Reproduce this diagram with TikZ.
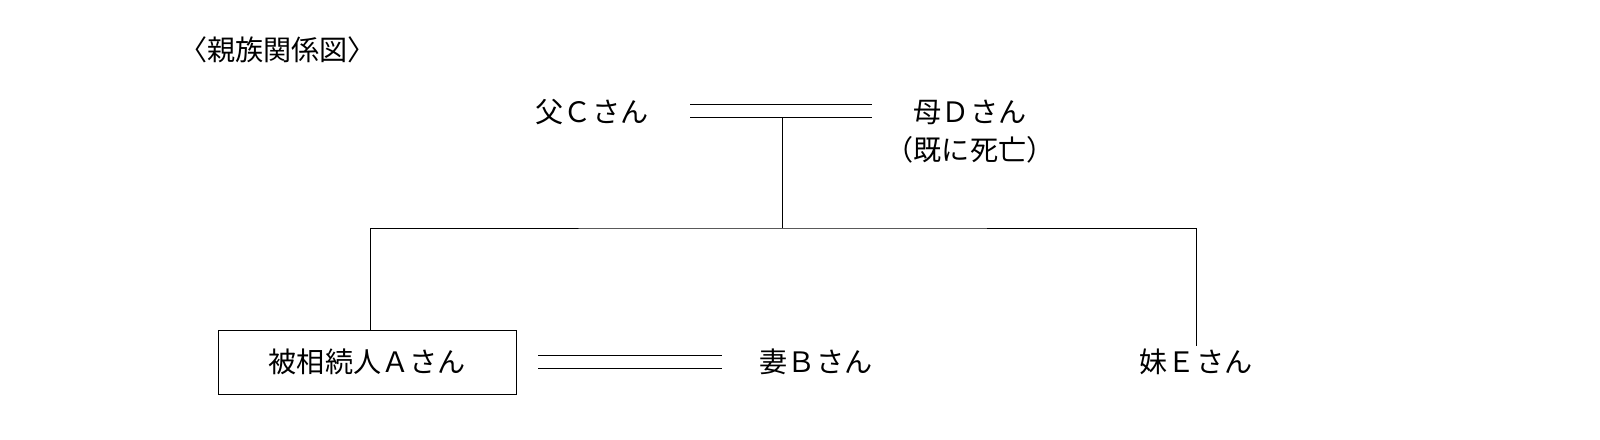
\documentclass[tikz,border=0pt]{standalone}
\usepackage{fontspec}
\setmainfont{Noto Sans CJK JP}
\usetikzlibrary{positioning}
\tikzstyle{person} = [inner sep=2pt, font=\fontsize{20}{24}\selectfont]
\tikzstyle{marriage} = [double, double distance=0.3cm, line width=0.7pt]
\tikzstyle{line} = [line width=0.7pt]

\begin{document}
\begin{tikzpicture}

    % Nodes
    \node (title) [person, anchor=west] at (4.4,9.75) {〈親族関係図〉};
    \node (father) [person] at (14.8,8.2) {父Ｃさん};
    \node (mother) [person] at (24.25,8.2) {母Ｄさん};
    \node (deceased) [person, below=0.15cm of mother] {（既に死亡）};
    \node (heir) [person, draw, line width=0.7pt, minimum width=7.45cm, minimum height=1.6cm] at (9.18,1.95) {被相続人Ａさん};
    \node (wife) [person] at (20.4,1.95) {妻Ｂさん};
    \node (sister) [person] at (29.9,1.95) {妹Ｅさん};

    % Coordinates
    \coordinate (fc) at (17.25,8.22);
    \coordinate (mc) at (21.8,8.22);
    \coordinate (drop) at (19.55,8.05);
    \coordinate (bar) at (19.55,5.3);
    \coordinate (hc) at (13.45,1.95);
    \coordinate (wc) at (18.05,1.95);
    \coordinate (hs) at (9.25,2.75);

    % Lines
    \draw [marriage] (fc) -- (mc);
    \draw [marriage] (hc) -- (wc);
    \draw [line] (drop) -- (bar);
    \draw [line] (hs) |- (bar) -| (sister.north);

    \pgfresetboundingbox
    \useasboundingbox (0,0) rectangle (40,11);
\end{tikzpicture}
\end{document}
